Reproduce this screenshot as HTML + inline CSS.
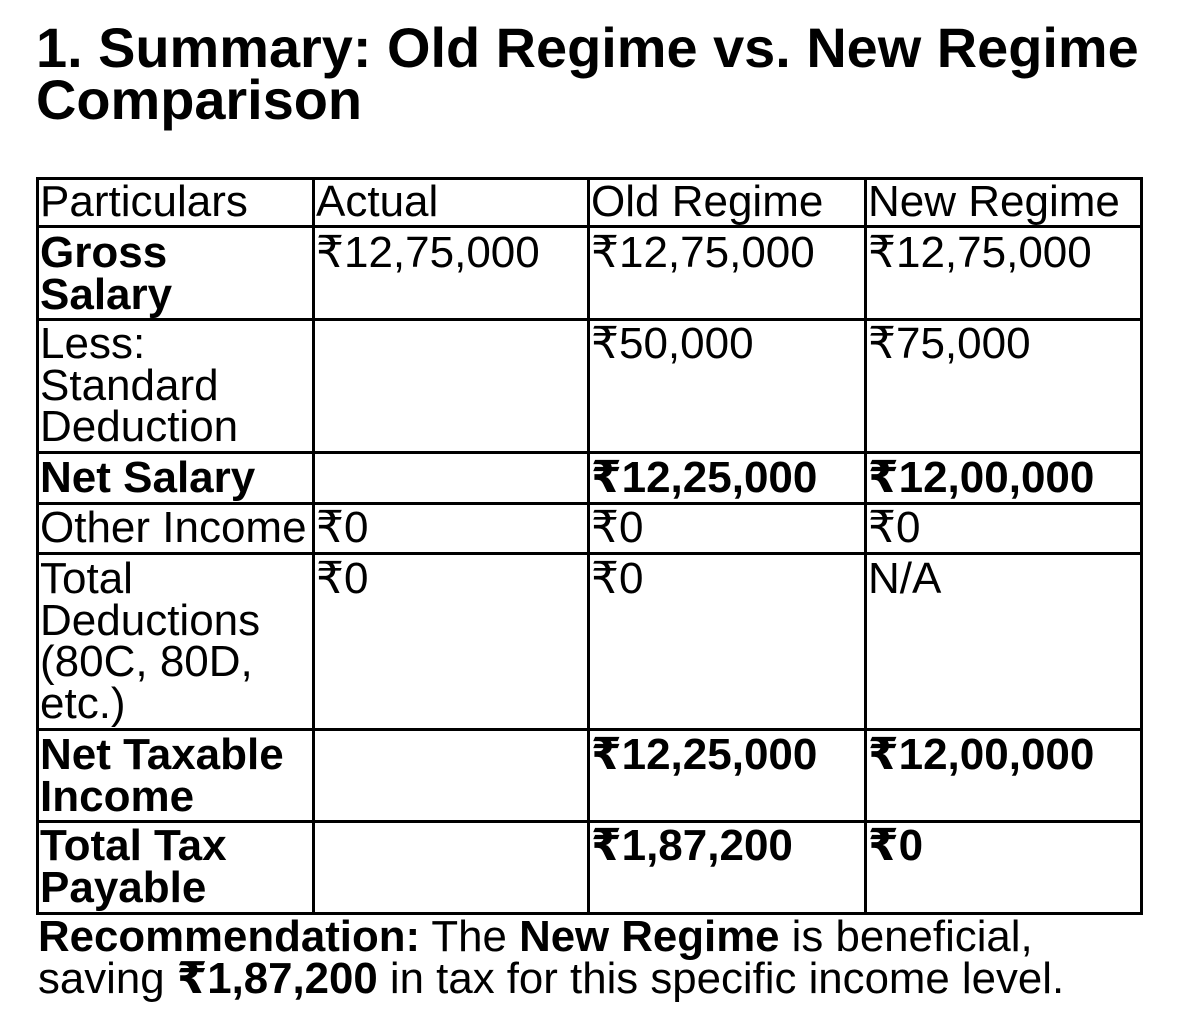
<!DOCTYPE html>
<html>
<head>
<meta charset="utf-8">
<style>
  html, body { margin:0; padding:0; background:#fff; }
  body { width:1179px; height:1016px; position:relative; overflow:hidden;
         font-family:"Liberation Sans", "DejaVu Sans", sans-serif; color:#000; }
  .title { position:absolute; left:36px; top:22px; font-size:55.9px; line-height:52px;
           font-weight:bold; white-space:nowrap; margin:0; }
  .h { position:absolute; left:36px; width:1107px; height:3px; background:#000; }
  .v { position:absolute; top:177px; height:738px; width:3px; background:#000; }
  .c { position:absolute; font-size:44px; line-height:41.7px; white-space:nowrap; }
  .b { font-weight:bold; }
  .rec { position:absolute; left:38px; top:916px; font-size:43.8px; line-height:41.8px; white-space:nowrap; }
</style>
</head>
<body>
<div class="title">1. Summary: Old Regime vs. New Regime<br>Comparison</div>

<!-- horizontal lines -->
<div class="h" style="top:177px"></div>
<div class="h" style="top:225px"></div>
<div class="h" style="top:318px"></div>
<div class="h" style="top:451px"></div>
<div class="h" style="top:502px"></div>
<div class="h" style="top:552px"></div>
<div class="h" style="top:728px"></div>
<div class="h" style="top:820px"></div>
<div class="h" style="top:912px"></div>

<!-- vertical lines -->
<div class="v" style="left:36px"></div>
<div class="v" style="left:312px"></div>
<div class="v" style="left:587px"></div>
<div class="v" style="left:864px"></div>
<div class="v" style="left:1140px"></div>

<!-- header -->
<div class="c" style="left:40px; top:181px">Particulars</div>
<div class="c" style="left:316px; top:181px">Actual</div>
<div class="c" style="left:591px; top:181px">Old Regime</div>
<div class="c" style="left:868px; top:181px">New Regime</div>

<!-- Gross Salary -->
<div class="c b" style="left:40px; top:232px">Gross<br>Salary</div>
<div class="c" style="left:316px; top:232px">₹12,75,000</div>
<div class="c" style="left:591px; top:232px">₹12,75,000</div>
<div class="c" style="left:868px; top:232px">₹12,75,000</div>

<!-- Less: Standard Deduction -->
<div class="c" style="left:40px; top:323px">Less:<br>Standard<br>Deduction</div>
<div class="c" style="left:591px; top:323px">₹50,000</div>
<div class="c" style="left:868px; top:323px">₹75,000</div>

<!-- Net Salary -->
<div class="c b" style="left:40px; top:457px">Net Salary</div>
<div class="c b" style="left:591px; top:457px">₹12,25,000</div>
<div class="c b" style="left:868px; top:457px">₹12,00,000</div>

<!-- Other Income -->
<div class="c" style="left:40px; top:507px">Other Income</div>
<div class="c" style="left:316px; top:507px">₹0</div>
<div class="c" style="left:591px; top:507px">₹0</div>
<div class="c" style="left:868px; top:507px">₹0</div>

<!-- Total Deductions -->
<div class="c" style="left:40px; top:558px">Total<br>Deductions<br>(80C, 80D,<br>etc.)</div>
<div class="c" style="left:316px; top:558px">₹0</div>
<div class="c" style="left:591px; top:558px">₹0</div>
<div class="c" style="left:868px; top:558px">N/A</div>

<!-- Net Taxable Income -->
<div class="c b" style="left:40px; top:734px">Net Taxable<br>Income</div>
<div class="c b" style="left:591px; top:734px">₹12,25,000</div>
<div class="c b" style="left:868px; top:734px">₹12,00,000</div>

<!-- Total Tax Payable -->
<div class="c b" style="left:40px; top:825px">Total Tax<br>Payable</div>
<div class="c b" style="left:591px; top:825px">₹1,87,200</div>
<div class="c b" style="left:868px; top:825px">₹0</div>

<div class="rec"><b>Recommendation:</b> The <b>New Regime</b> is beneficial,<br>saving <b>₹1,87,200</b> in tax for this specific income level.</div>
</body>
</html>
